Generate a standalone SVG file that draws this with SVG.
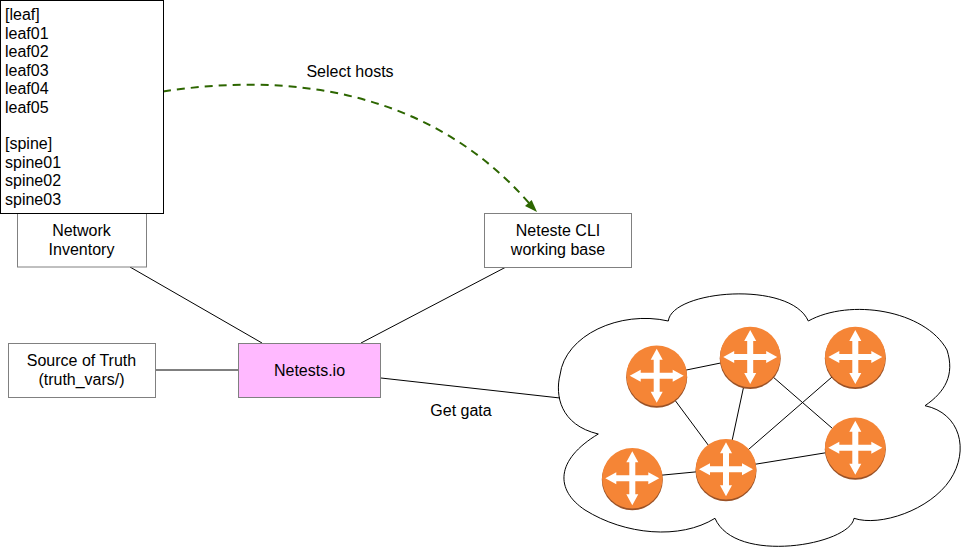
<svg xmlns="http://www.w3.org/2000/svg" xmlns:xlink="http://www.w3.org/1999/xlink" width="978" height="552" viewBox="0 0 978 552">
<style>
text{font-family:"Liberation Sans",Arial,sans-serif;font-size:16px;fill:#000}
.c{text-anchor:middle}
.box{fill:#fff;stroke:#808080;stroke-width:1}
.link{stroke:#000;stroke-width:1;fill:none}
</style>
<defs>
<g id="router">
<circle cx="0" cy="1.5" r="30.5" fill="#9A5227"/>
<circle cx="0" cy="0" r="30.3" fill="#F58536"/>
<polygon fill="#fff" points="0,-27 6,-16 3,-16 3,-3 16,-3 16,-6 27,0 16,6 16,3 3,3 3,16 6,16 0,27 -6,16 -3,16 -3,3 -16,3 -16,6 -27,0 -16,-6 -16,-3 -3,-3 -3,-16 -6,-16"/>
</g>
</defs>
<rect width="978" height="552" fill="#fff"/>
<g id="cloud">
<path d="M668.3,321 C672,290 790,280 808.3,321 C850,298 925,310 947,350 C955,375 945,392 925,405.7 C960,413 970,450 950,480 C930,510 880,527 854,518.3 C850,545 735,565 715,518.3 C680,540 625,535 585,510 C555,490 555,460 598.3,434 C560,425 555,395 560,375 C565,335 620,310 668.3,321 Z" fill="#fff" stroke="#000" stroke-width="1"/>
</g>
<g id="connectors">
<line class="link" x1="130" y1="267" x2="262" y2="343"/>
<line class="link" x1="361" y1="343" x2="506" y2="267"/>
<line class="link" x1="155" y1="370" x2="238" y2="370"/>
<line class="link" x1="381" y1="378" x2="560" y2="398"/>
<line class="link" x1="657" y1="376" x2="750" y2="357"/>
<line class="link" x1="657" y1="376" x2="726" y2="469"/>
<line class="link" x1="750" y1="357" x2="726" y2="469"/>
<line class="link" x1="750" y1="357" x2="855" y2="448"/>
<line class="link" x1="855" y1="357" x2="726" y2="469"/>
<line class="link" x1="726" y1="469" x2="855" y2="448"/>
<line class="link" x1="632" y1="478" x2="726" y2="469"/>
<path d="M163,91.500 C290,72 430,90 529,203" fill="none" stroke="#2D6600" stroke-width="2" stroke-dasharray="8 6"/>
<polygon points="537,212 525,206 531.700,200" fill="#2D6600"/>
</g>
<g id="network-inventory">
<rect class="box" x="17.500" y="200" width="129" height="67"/>
<text class="c" x="81.500" y="236">Network</text>
<text class="c" x="81.500" y="255">Inventory</text>
</g>
<g id="inventory-list">
<rect x="0.500" y="0.500" width="163" height="213" fill="#fff" stroke="#000" stroke-width="1"/>
<text x="5" y="20">[leaf]</text>
<text x="5" y="39">leaf01</text>
<text x="5" y="57">leaf02</text>
<text x="5" y="76">leaf03</text>
<text x="5" y="94">leaf04</text>
<text x="5" y="113">leaf05</text>
<text x="5" y="149">[spine]</text>
<text x="5" y="168">spine01</text>
<text x="5" y="186">spine02</text>
<text x="5" y="205">spine03</text>
</g>
<g id="working-base">
<rect class="box" x="484.500" y="213.500" width="147" height="54"/>
<text class="c" x="558" y="236">Neteste CLI</text>
<text class="c" x="558" y="255">working base</text>
</g>
<g id="source-of-truth">
<rect class="box" x="8.500" y="343.500" width="147" height="54"/>
<text class="c" x="81.500" y="366">Source of Truth</text>
<text class="c" x="81.500" y="385">(truth_vars/)</text>
</g>
<g id="netests">
<rect class="box" x="238.500" y="343.500" width="142" height="54" fill="#FFB9FF" style="fill:#FFB9FF"/>
<text class="c" x="309.500" y="376">Netests.io</text>
</g>
<g id="label-select"><text class="c" x="350" y="77">Select hosts</text></g>
<g id="label-get"><text class="c" x="461" y="416">Get gata</text></g>
<g id="router1"><use href="#router" x="656.700" y="375.700"/></g>
<g id="router2"><use href="#router" x="750.200" y="357"/></g>
<g id="router3"><use href="#router" x="855.300" y="357"/></g>
<g id="router4"><use href="#router" x="855.300" y="447.700"/></g>
<g id="router5"><use href="#router" x="726" y="469.300"/></g>
<g id="router6"><use href="#router" x="632.300" y="478.300"/></g>
</svg>
